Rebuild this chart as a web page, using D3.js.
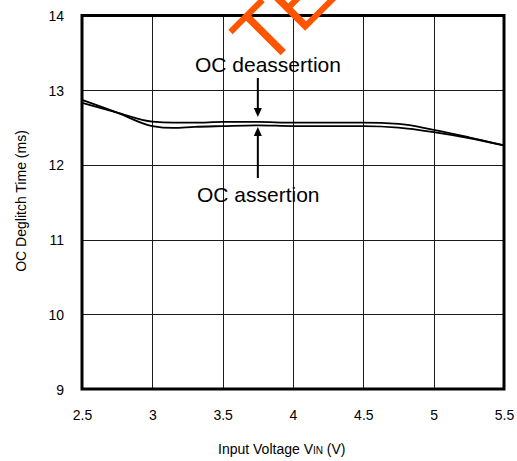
<!DOCTYPE html>
<html>
<head>
<meta charset="utf-8">
<script src="https://cdn.jsdelivr.net/npm/d3@7"></script>
<style>
  html, body { margin: 0; padding: 0; background: #fff; }
  svg { display: block; font-family: "Liberation Sans", Arial, sans-serif; }
</style>
</head>
<body>
<svg id="chart" width="517" height="461"></svg>
<script>
// ---- data ----
const xTicks = [2.5, 3, 3.5, 4, 4.5, 5, 5.5];
const xTickLabels = ["2.5", "3", "3.5", "4", "4.5", "5", "5.5"];
const yTicks = [9, 10, 11, 12, 13, 14];
const yTickLabels = ["9", "10", "11", "12", "13", "14"];

const deassertVin = [2.5, 2.75, 3.0, 3.15, 3.3, 3.5, 3.75, 4.0, 4.25, 4.5, 4.75, 5.0, 5.25, 5.5];
const deassertTime = [12.83, 12.70, 12.58, 12.565, 12.565, 12.575, 12.575, 12.565, 12.565, 12.565, 12.55, 12.47, 12.37, 12.26];

const assertVin = [2.5, 2.75, 3.0, 3.15, 3.3, 3.5, 3.75, 4.0, 4.25, 4.5, 4.75, 5.0, 5.25, 5.5];
const assertTime = [12.87, 12.70, 12.52, 12.495, 12.51, 12.52, 12.53, 12.52, 12.52, 12.52, 12.50, 12.44, 12.36, 12.26];

// ---- layout ----
const svg = d3.select("#chart");
const pL = 82, pR = 504, pT = 15.5, pB = 389;
const x = d3.scaleLinear().domain([2.5, 5.5]).range([pL, pR]);
const y = d3.scaleLinear().domain([9, 14]).range([pB, pT]);

// grid
const g = svg.append("g");
g.selectAll("line.vg").data(xTicks.slice(1, -1)).enter().append("line")
  .attr("x1", d => Math.round(x(d)) + 0.5).attr("x2", d => Math.round(x(d)) + 0.5)
  .attr("y1", pT).attr("y2", pB)
  .attr("stroke", "#1a1a1a").attr("stroke-width", 1);
g.selectAll("line.hg").data(yTicks.slice(1, -1)).enter().append("line")
  .attr("y1", d => Math.round(y(d)) + 0.5).attr("y2", d => Math.round(y(d)) + 0.5)
  .attr("x1", pL).attr("x2", pR)
  .attr("stroke", "#1a1a1a").attr("stroke-width", 1);

// axes (labels only, via d3 axes)
const xAxis = d3.axisBottom(x).tickValues(xTicks).tickFormat((d, i) => xTickLabels[i]).tickSize(0).tickPadding(0);
const xa = svg.append("g").attr("transform", `translate(0,${pB})`).call(xAxis);
xa.select(".domain").remove();
xa.selectAll("text").attr("font-size", 14).attr("fill", "#000")
  .attr("font-family", "'Liberation Sans', Arial, sans-serif")
  .attr("dy", null).attr("y", 31);

const yAxis = d3.axisLeft(y).tickValues(yTicks).tickFormat((d, i) => yTickLabels[i]).tickSize(0).tickPadding(0);
const ya = svg.append("g").attr("transform", `translate(${pL},0)`).call(yAxis);
ya.select(".domain").remove();
ya.selectAll("text").attr("font-size", 14).attr("fill", "#000")
  .attr("font-family", "'Liberation Sans', Arial, sans-serif")
  .attr("x", -18).attr("dy", "0.36em");

// curves
const line = d3.line().x(d => x(d[0])).y(d => y(d[1])).curve(d3.curveMonotoneX);
svg.append("path").datum(deassertVin.map((v, i) => [v, deassertTime[i]]))
  .attr("d", line).attr("fill", "none").attr("stroke", "#000").attr("stroke-width", 1.8);
svg.append("path").datum(assertVin.map((v, i) => [v, assertTime[i]]))
  .attr("d", line).attr("fill", "none").attr("stroke", "#000").attr("stroke-width", 1.8);

// frame
svg.append("rect").attr("x", pL).attr("y", pT).attr("width", pR - pL).attr("height", pB - pT)
  .attr("fill", "none").attr("stroke", "#000").attr("stroke-width", 3);

// annotations
const ax = x(3.75);
svg.append("text").attr("x", 195).attr("y", 72).attr("font-size", 21).attr("fill", "#000").text("OC deassertion");
svg.append("text").attr("x", 197).attr("y", 202).attr("font-size", 21).attr("fill", "#000").text("OC assertion");
// down arrow
svg.append("line").attr("x1", ax).attr("x2", ax).attr("y1", 78).attr("y2", 109).attr("stroke", "#000").attr("stroke-width", 2);
svg.append("path").attr("d", `M${ax - 4},108 L${ax + 4},108 L${ax},117 Z`).attr("fill", "#000");
// up arrow
svg.append("line").attr("x1", ax).attr("x2", ax).attr("y1", 178).attr("y2", 135).attr("stroke", "#000").attr("stroke-width", 2);
svg.append("path").attr("d", `M${ax - 4},136 L${ax + 4},136 L${ax},127 Z`).attr("fill", "#000");

// axis titles
const xt = svg.append("text").attr("x", 218).attr("y", 454).attr("font-size", 14).attr("fill", "#000");
xt.append("tspan").text("Input Voltage V");
xt.append("tspan").attr("font-size", 10).text("IN");
xt.append("tspan").text(" (V)");

svg.append("text").attr("transform", "translate(26,201) rotate(-90)")
  .attr("text-anchor", "middle").attr("font-size", 14).attr("fill", "#000")
  .text("OC Deglitch Time (ms)");

// watermark
svg.append("text").attr("transform", "translate(266,70) rotate(-45)")
  .attr("font-size", 80).attr("fill", "#ff5500")
  .attr("font-family", "'Liberation Sans', Arial, sans-serif")
  .text("TEXAS INSTRUMENTS");
</script>
</body>
</html>
